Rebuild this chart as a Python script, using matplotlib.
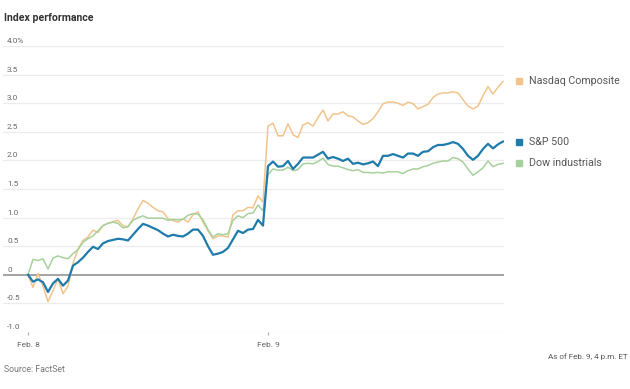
import matplotlib
matplotlib.use("Agg")
import matplotlib.pyplot as plt
import numpy as np

plt.rcParams['font.family'] = ['Roboto', 'DejaVu Sans']

# intraday % change, sampled in ~8 minute steps; Feb. 9 session starts at step 48
feb9_start = 48
nasdaq = [0.0, -0.22, 0.02, -0.2, -0.47, -0.28, -0.07, -0.33,
          -0.2, 0.2, 0.45, 0.6, 0.66, 0.78, 0.74, 0.86,
          0.9, 0.93, 0.95, 0.86, 0.84, 0.98, 1.15, 1.3,
          1.25, 1.18, 1.12, 1.1, 0.98, 0.95, 0.92, 0.98,
          0.92, 1.05, 1.1, 0.92, 0.77, 0.63, 0.68, 0.68,
          0.66, 1.05, 1.12, 1.12, 1.18, 1.17, 1.38, 1.27,
          2.6, 2.65, 2.43, 2.43, 2.64, 2.45, 2.4, 2.62,
          2.66, 2.6, 2.75, 2.88, 2.69, 2.81, 2.81, 2.85,
          2.78, 2.76, 2.69, 2.63, 2.66, 2.73, 2.85, 2.99,
          3.02, 3.02, 3.0, 2.96, 3.02, 2.99, 2.9, 2.94,
          2.98, 3.1, 3.16, 3.18, 3.18, 3.2, 3.18, 3.06,
          2.95, 2.9, 2.95, 3.13, 3.29, 3.16, 3.28, 3.38]
sp500 = [0.0, -0.12, -0.08, -0.13, -0.3, -0.15, -0.07, -0.19,
         -0.1, 0.16, 0.22, 0.3, 0.4, 0.49, 0.45, 0.55,
         0.59, 0.61, 0.63, 0.62, 0.6, 0.7, 0.8, 0.89,
         0.86, 0.82, 0.78, 0.72, 0.67, 0.7, 0.68, 0.67,
         0.72, 0.79, 0.79, 0.68, 0.5, 0.35, 0.37, 0.4,
         0.47, 0.62, 0.77, 0.73, 0.79, 0.8, 0.96, 0.86,
         1.9, 1.98, 1.89, 1.9, 1.99, 1.85, 1.94, 2.05,
         2.05, 2.05, 2.1, 2.15, 2.03, 2.06, 2.03, 1.99,
         2.03, 1.94, 1.96, 1.93, 1.95, 1.98, 1.9, 2.08,
         2.08, 2.11, 2.08, 2.05, 2.12, 2.12, 2.08, 2.15,
         2.16, 2.23, 2.27, 2.27, 2.29, 2.32, 2.29, 2.2,
         2.08, 2.01, 2.08, 2.2, 2.29, 2.21, 2.28, 2.33]
dow = [0.0, 0.27, 0.25, 0.28, 0.1, 0.29, 0.33, 0.3,
       0.28, 0.37, 0.44, 0.57, 0.63, 0.68, 0.77, 0.86,
       0.9, 0.92, 0.9, 0.82, 0.84, 0.95, 1.0, 1.03,
       0.99, 0.99, 0.99, 0.99, 0.95, 0.97, 0.96, 0.97,
       1.04, 1.07, 1.06, 0.96, 0.79, 0.66, 0.72, 0.7,
       0.72, 0.95, 1.03, 1.0, 1.07, 1.08, 1.22, 1.12,
       1.75, 1.85, 1.83, 1.83, 1.88, 1.82, 1.84, 1.94,
       1.95, 1.94, 1.98, 2.04, 1.93, 1.9, 1.9, 1.87,
       1.84, 1.82, 1.84, 1.79, 1.79, 1.78, 1.79, 1.78,
       1.8, 1.8, 1.8, 1.77, 1.82, 1.85, 1.85, 1.89,
       1.91, 1.95, 1.97, 1.99, 1.99, 2.05, 2.03, 1.97,
       1.85, 1.74, 1.8, 1.87, 1.99, 1.89, 1.93, 1.95]

names = ['Nasdaq Composite', 'S&P 500', 'Dow industrials']
colors = ['#f2c48c', '#1f7bab', '#a6d19c']
widths = [1.1, 1.6, 1.1]
ytick_vals = [-1.0, -0.5, 0, 0.5, 1.0, 1.5, 2.0, 2.5, 3.0, 3.5, 4.0]
ytick_labels = ['-1.0', '-0.5', '0', '0.5', '1.0', '1.5', '2.0', '2.5', '3.0', '3.5', '4.0%']
xtick_labels = ['Feb. 8', 'Feb. 9']

fig = plt.figure(figsize=(6.3, 3.89), dpi=100)
ax = fig.add_axes([3 / 630, 57 / 389, 501 / 630, 286 / 389])

x = np.arange(len(nasdaq))

for v, lab in zip(ytick_vals, ytick_labels):
    if v == 0:
        ax.axhline(v, color='#8a8a8a', lw=1.1, zorder=1)
    else:
        ax.axhline(v, color='#ececec', lw=0.9, zorder=0)
    ax.annotate(lab, xy=(0.008, v), xycoords=('axes fraction', 'data'),
                xytext=(0, 1.5), textcoords='offset points', ha='left', va='bottom',
                fontsize=5.9, color='#666666')

series = [nasdaq, sp500, dow]
# S&P drawn last so it sits on top
for i in [0, 2, 1]:
    ax.plot(x, series[i], color=colors[i], lw=widths[i], zorder=3 + (i == 1),
            solid_joinstyle='round')

# end-of-line labels with little colour keys
for i in range(3):
    last = series[i][-1]
    ax.plot([x[-1] + 3.2], [last], marker='s', ms=4.2, color=colors[i],
            ls='none', clip_on=False)
    ax.annotate(names[i], xy=(x[-1], last), xytext=(18.5, 0), textcoords='offset points',
                ha='left', va='center', fontsize=7.7, color='#555555', annotation_clip=False)

ax.set_xlim(-5, 95.2)
ax.set_ylim(-1.0, 4.0)
ax.set_xticks([0, feb9_start])
ax.set_xticklabels(xtick_labels)
ax.tick_params(axis='x', length=2, width=0.8, color='#aaaaaa', labelsize=6, labelcolor='#666666', pad=5)
ax.set_yticks([])
for s in ax.spines.values():
    s.set_visible(False)

fig.text(4 / 630, 1 - 18 / 389, 'Index performance', fontsize=7.6, fontweight='bold',
         color='#333333', ha='left', va='center')
fig.text(4 / 630, 1 - 370 / 389, 'Source: FactSet', fontsize=6.3, color='#777777',
         ha='left', va='center')
fig.text(628 / 630, 1 - 357 / 389, 'As of Feb. 9, 4 p.m. ET', fontsize=5.8, color='#555555',
         ha='right', va='center')

fig.savefig('out.png', dpi=100)
